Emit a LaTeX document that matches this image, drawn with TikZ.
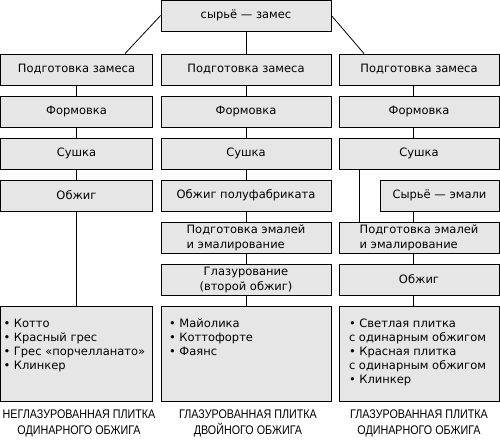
\documentclass[tikz,border=0pt]{standalone}
\usepackage{fontspec}
\setmainfont{DejaVu Sans}
\newfontfamily\capfont[FakeStretch=0.86]{Liberation Sans}
\definecolor{tilegray}{HTML}{E6E6E6}
\tikzset{
  stage/.style={draw, fill=tilegray, line width=0.8pt, minimum height=31pt, inner sep=0pt,
    font=\fontsize{11.5}{15}\selectfont},
  stageL/.style={stage, minimum width=152pt},
  stageM/.style={stage, minimum width=170pt},
  stageR/.style={stage, minimum width=160pt},
  tiles/.style={draw, fill=tilegray, line width=0.8pt, inner ysep=0pt,
    font=\fontsize{11.5}{14}\selectfont},
  caption/.style={align=center, font=\capfont\fontsize{12.5}{16.7}\selectfont},
  link/.style={line width=0.8pt}
}
\newcommand{\tilelist}[2]{\parbox[c][95pt][t]{#1}{\vspace*{13pt}#2}}
\begin{document}
\begin{tikzpicture}[x=1pt, y=1pt, node distance=42pt]
\useasboundingbox (0,0) rectangle (500,-442);
\node (raw) [stageM] at (246,-15.5) {сырьё — замес};
\node (prepL) [stageL] at (76.5,-69.5) {Подготовка замеса};
\node (formL) [stageL, below of=prepL] {Формовка};
\node (dryL) [stageL, below of=formL] {Сушка};
\node (fireL) [stageL, below of=dryL] {Обжиг};
\node (listL) [tiles, inner xsep=3pt, below of=fireL, node distance=158pt]
  {\tilelist{146pt}{• Котто\\• Красный грес\\• Грес «порчелланато»\\• Клинкер}};
\node (prepM) [stageM] at (246,-69.5) {Подготовка замеса};
\node (formM) [stageM, below of=prepM] {Формовка};
\node (dryM) [stageM, below of=formM] {Сушка};
\node (fireM) [stageM, below of=dryM] {Обжиг полуфабриката};
\node (enamM) [stageM, align=left, below of=fireM] {Подготовка эмалей\\и эмалирование};
\node (glazeM) [stageM, align=center, below of=enamM] {Глазурование\\(второй обжиг)};
\node (listM) [tiles, inner xsep=8pt, below of=glazeM, node distance=74pt]
  {\tilelist{154pt}{• Майолика\\• Коттофорте\\• Фаянс}};
\node (prepR) [stageR] at (419,-69.5) {Подготовка замеса};
\node (formR) [stageR, below of=prepR] {Формовка};
\node (dryR) [stageR, below of=formR] {Сушка};
\node (rawR) [stage, minimum width=119pt] at (439.5,-195.5) {Сырьё — эмали};
\node (enamR) [stageR, align=left, below of=dryR, node distance=84pt] {Подготовка эмалей\\и эмалирование};
\node (fireR) [stageR, below of=enamR] {Обжиг};
\node (listR) [tiles, inner xsep=10pt, below of=fireR, node distance=74pt]
  {\tilelist{140pt}{• Светлая плитка\\с одинарным обжигом\\• Красная плитка\\с одинарным обжигом\\• Клинкер}};
\node (capL) [caption, below of=listL, node distance=70pt, xshift=2.5pt] {НЕГЛАЗУРОВАННАЯ ПЛИТКА\\ОДИНАРНОГО ОБЖИГА};
\node (capM) [caption, below of=listM, node distance=70pt, xshift=2pt] {ГЛАЗУРОВАННАЯ ПЛИТКА\\ДВОЙНОГО ОБЖИГА};
\node (capR) [caption, below of=listR, node distance=70pt] {ГЛАЗУРОВАННАЯ ПЛИТКА\\ОДИНАРНОГО ОБЖИГА};
\draw[link] (raw) -- (prepM);
\draw[link] (raw.west) -- ([xshift=48.5pt]prepL.north);
\draw[link] (raw.east) -- ([xshift=-55pt]prepR.north);
\draw[link] (prepL) -- (formL);
\draw[link] (formL) -- (dryL);
\draw[link] (dryL) -- (fireL);
\draw[link] (fireL) -- (listL);
\draw[link] (prepM) -- (formM);
\draw[link] (formM) -- (dryM);
\draw[link] (dryM) -- (fireM);
\draw[link] (fireM) -- (enamM);
\draw[link] (enamM) -- (glazeM);
\draw[link] (glazeM) -- (listM);
\draw[link] ([xshift=-6pt]prepR.south) -- ([xshift=-6pt]formR.north);
\draw[link] ([xshift=-6pt]formR.south) -- ([xshift=-6pt]dryR.north);
\draw[link] ([xshift=-60pt]dryR.south) -- ([xshift=-60pt]enamR.north);
\draw[link] ([xshift=-26.5pt]rawR.south) -- ([xshift=-6pt]enamR.north);
\draw[link] ([xshift=-6pt]enamR.south) -- ([xshift=-6pt]fireR.north);
\draw[link] ([xshift=-6pt]fireR.south) -- ([xshift=-6pt]listR.north);
\end{tikzpicture}
\end{document}
